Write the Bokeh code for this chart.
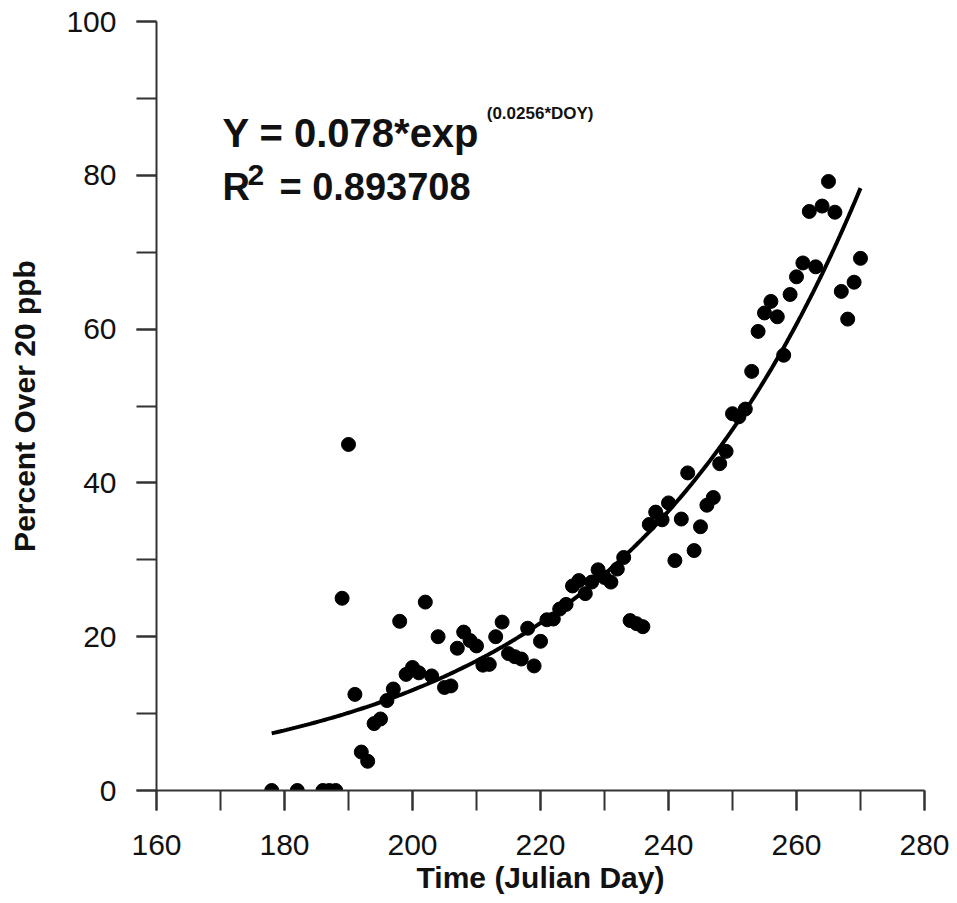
import numpy as np
from bokeh.plotting import figure
from bokeh.models import Label, SingleIntervalTicker, Range1d
from bokeh.embed import file_html
from bokeh.resources import INLINE

# ---- data ----
days = [178, 182, 186, 187, 188, 189, 190, 191, 192, 193, 194, 195, 196, 197, 198,
        199, 200, 201, 202, 203, 204, 205, 206, 207, 208, 209, 210, 211, 212, 213,
        214, 215, 216, 217, 218, 219, 220, 221, 222, 223, 224, 225, 226, 227, 228,
        229, 230, 231, 232, 233, 234, 235, 236, 237, 238, 239, 240, 241, 242, 243,
        244, 245, 246, 247, 248, 249, 250, 251, 252, 253, 254, 255, 256, 257, 258,
        259, 260, 261, 262, 263, 264, 265, 266, 267, 268, 269, 270]
percent = [0, 0, 0, 0, 0, 25, 45, 12.5, 5, 3.8, 8.7, 9.3, 11.7, 13.2, 22,
           15.1, 16, 15.3, 24.5, 14.9, 20, 13.4, 13.6, 18.5, 20.6, 19.5, 18.8, 16.3, 16.4, 20,
           21.9, 17.8, 17.4, 17.1, 21.1, 16.2, 19.4, 22.2, 22.3, 23.6, 24.2, 26.6, 27.3, 25.6, 27.1,
           28.7, 27.7, 27.1, 28.8, 30.3, 22.1, 21.7, 21.3, 34.6, 36.2, 35.2, 37.4, 29.9, 35.3, 41.3,
           31.2, 34.3, 37.1, 38.1, 42.5, 44.1, 49, 48.6, 49.6, 54.5, 59.7, 62.1, 63.6, 61.6, 56.6,
           64.5, 66.8, 68.6, 75.3, 68.1, 76, 79.2, 75.2, 64.9, 61.3, 66.1, 69.2]

# fitted model shown on the chart: Y = 0.078*exp(0.0256*DOY)
fit_a = 0.078
fit_b = 0.0256
fit_start, fit_end = 178, 270

x_ticks_interval = 20
y_ticks_interval = 20

FONT = "Liberation Sans"

p = figure(width=957, height=903, output_backend="svg", toolbar_location=None,
           x_range=Range1d(160, 280), y_range=Range1d(0, 100),
           min_border_left=156, min_border_right=33, min_border_top=21,
           min_border_bottom=113)
p.outline_line_color = None
p.xgrid.visible = False
p.ygrid.visible = False
p.background_fill_color = "white"
p.border_fill_color = "white"

fit_x = np.linspace(fit_start, fit_end, 200)
fit_y = fit_a * np.exp(fit_b * fit_x)
p.line(fit_x, fit_y, line_color="black", line_width=4)
p.scatter(days, percent, size=14, fill_color="black", line_color="black")

for ax, interval in ((p.xaxis[0], x_ticks_interval), (p.yaxis[0], y_ticks_interval)):
    ax.ticker = SingleIntervalTicker(interval=interval, num_minor_ticks=2)
    ax.axis_line_color = "#333333"
    ax.axis_line_width = 2
    ax.major_tick_line_color = "#333333"
    ax.minor_tick_line_color = "#333333"
    ax.major_tick_line_width = 2
    ax.minor_tick_line_width = 2
    ax.major_tick_in = 0
    ax.minor_tick_in = 0
    ax.major_tick_out = 20
    ax.minor_tick_out = 20
    ax.major_label_text_font = FONT
    ax.major_label_text_font_size = "30px"
    ax.major_label_text_color = "#111111"
    ax.axis_label_text_font = FONT
    ax.axis_label_text_font_size = "30px"
    ax.axis_label_text_font_style = "bold"
    ax.axis_label_text_color = "#111111"

p.xaxis.axis_label = "Time (Julian Day)"
p.yaxis.axis_label = "Percent Over 20 ppb"
p.xaxis.major_label_standoff = 24
p.xaxis.axis_label_standoff = 3
p.yaxis.major_label_standoff = 20
p.yaxis.axis_label_standoff = 22

def add_text(x, y, text, size, style="bold"):
    p.add_layout(Label(x=x, y=y, text=text, text_font=FONT, text_font_size=size,
                       text_font_style=style, text_color="#111111",
                       text_baseline="alphabetic", text_align="left"))

add_text(170.3, 85.5, "Y = 0.078*exp", "40px")
add_text(211.6, 88.0, "(0.0256*DOY)", "17px")
add_text(170.3, 78.5, "R", "38px")
add_text(174.2, 80.0, "2", "30px")
add_text(179.2, 78.5, "= 0.893708", "38px")

open("out.html", "w").write(file_html(p, INLINE))
